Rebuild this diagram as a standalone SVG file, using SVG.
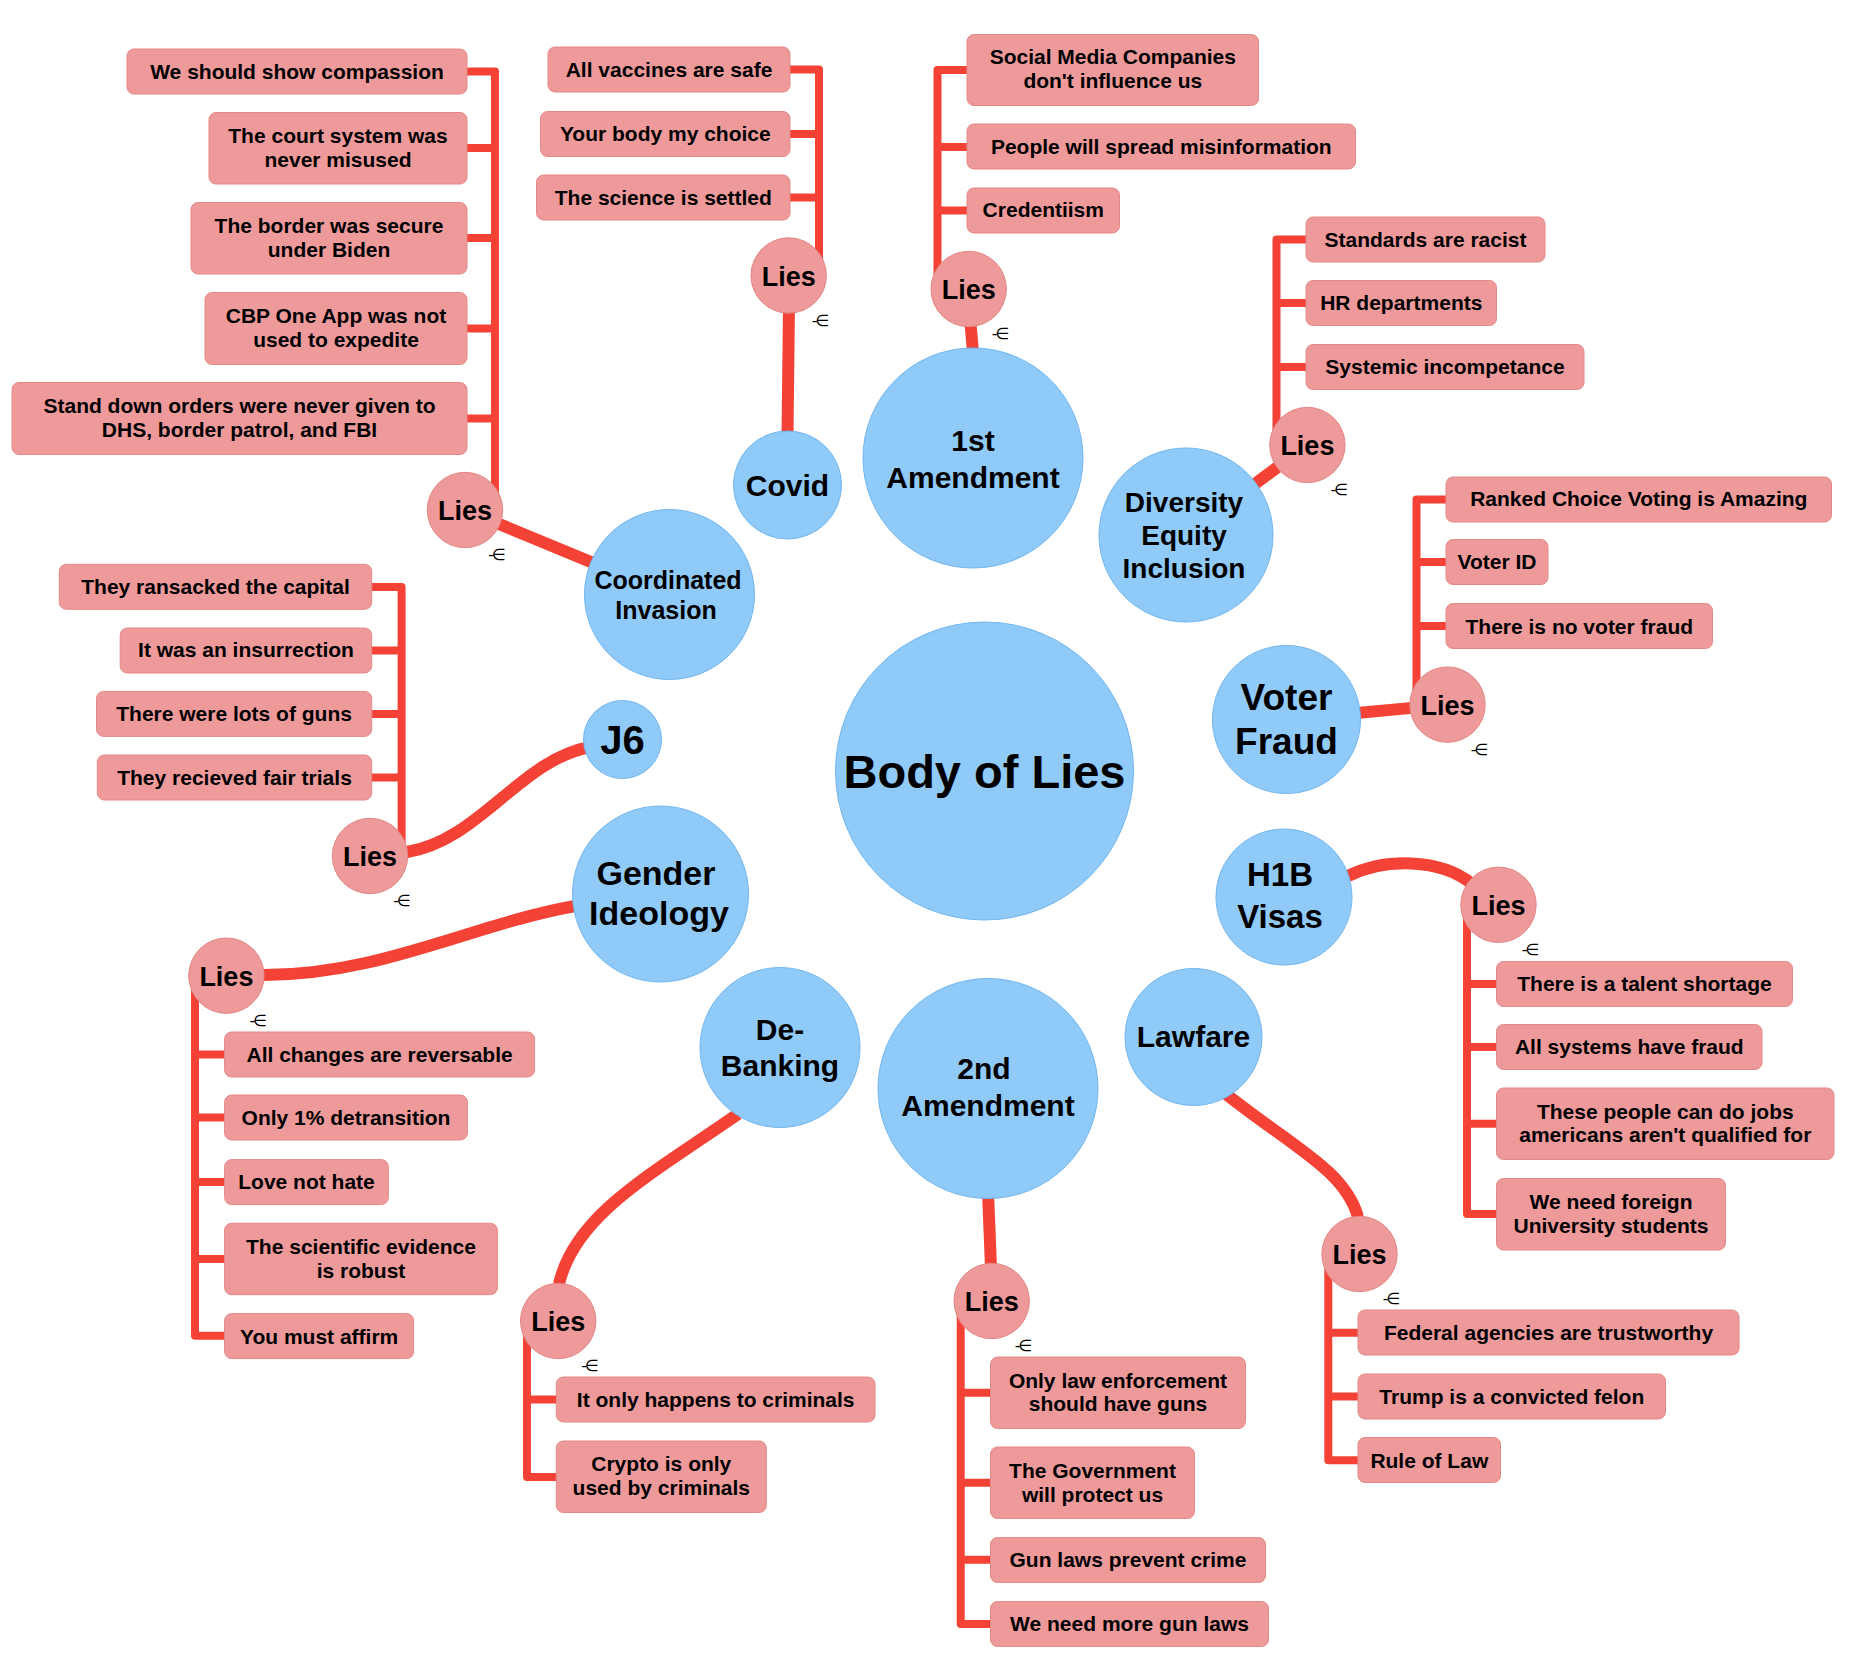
<svg xmlns="http://www.w3.org/2000/svg" width="1849" height="1659" viewBox="0 0 1849 1659">
<style>
text{font-family:"Liberation Sans",Arial,sans-serif;font-weight:bold;fill:#000;text-anchor:middle}
.topic{fill:#90CAF9;stroke:#72B6EF;stroke-width:1}
.lies{fill:#EF9A9A;stroke:#E38585;stroke-width:1}
.box{fill:#EF9A9A;stroke:#E58888;stroke-width:1}
.edge{fill:none;stroke:#F44336;stroke-width:12}
.branch{fill:none;stroke:#F44336;stroke-width:8;stroke-linejoin:round}
.t{font-size:21px}
.lt{font-size:27px}
.ic{font-family:"DejaVu Sans",sans-serif;font-weight:normal;font-size:16px;letter-spacing:-2px}
</style>
<rect width="1849" height="1659" fill="#fff"/>
<g id="connectors">
<path class="edge" d="M789 305 L787.5 435"/>
<path class="edge" d="M970 318 L973 352"/>
<path class="edge" d="M465 510 L669.5 594.5"/>
<path class="edge" d="M1307.4 445 L1186 535"/>
<path class="edge" d="M1286.5 719.5 L1447.5 704.6"/>
<path class="edge" d="M1348 876 C1385 858 1440 858 1472 884"/>
<path class="edge" d="M1226 1094 C1290 1145 1345 1170 1358 1217"/>
<path class="edge" d="M988 1192 L991 1268"/>
<path class="edge" d="M738 1114 C650 1175 575 1215 559 1284"/>
<path class="edge" d="M264 975 C380 975 470 925 575 906"/>
<path class="edge" d="M407 852 C480 840 520 760 590 747"/>
<path class="branch" d="M465 71.5 H495 V500 M495 148 H465 M495 238 H465 M495 328.5 H465 M495 418.5 H465"/>
<path class="branch" d="M788 69.5 H819 V265 M819 134 H788 M819 197.5 H788"/>
<path class="branch" d="M969 70 H937.5 V280 M937.5 147 H969 M937.5 210.5 H969"/>
<path class="branch" d="M1308 239.5 H1276.5 V440 M1276.5 303 H1308 M1276.5 367 H1308"/>
<path class="branch" d="M1448 499.5 H1416.5 V700 M1416.5 562 H1448 M1416.5 626 H1448"/>
<path class="branch" d="M1467 910 V1214 H1498 M1467 984 H1498 M1467 1047 H1498 M1467 1123.75 H1498"/>
<path class="branch" d="M1328.3 1260 V1460.2 H1360 M1328.3 1332.7 H1360 M1328.3 1396.5 H1360"/>
<path class="branch" d="M960.7 1310 V1624 H992 M960.7 1392.8 H992 M960.7 1482.8 H992 M960.7 1559.8 H992"/>
<path class="branch" d="M527 1330 V1477 H558 M527 1399.5 H558"/>
<path class="branch" d="M370 587 H401.6 V850 M401.6 650.4 H370 M401.6 714 H370 M401.6 777.5 H370"/>
<path class="branch" d="M195 990 V1335.8 H226 M195 1054.4 H226 M195 1117.5 H226 M195 1182 H226 M195 1259 H226"/>
</g>

<g id="node-body"><circle class="topic" cx="984.5" cy="771" r="149"/><text x="984.5" y="788" font-size="47">Body of Lies</text></g>
<g id="node-1st"><circle class="topic" cx="973" cy="458" r="110"/><text x="973" y="450.7" font-size="30">1st</text><text x="973" y="487.5" font-size="30">Amendment</text></g>
<g id="node-covid"><circle class="topic" cx="787.5" cy="485" r="54"/><text x="787.5" y="496" font-size="30">Covid</text></g>
<g id="node-dei"><circle class="topic" cx="1186" cy="535" r="87"/><text x="1184" y="511.5" font-size="28">Diversity</text><text x="1184" y="544.5" font-size="28">Equity</text><text x="1184" y="577.5" font-size="28">Inclusion</text></g>
<g id="node-coord"><circle class="topic" cx="669.5" cy="594.5" r="85"/><text x="668" y="589" font-size="25">Coordinated</text><text x="666" y="619" font-size="25">Invasion</text></g>
<g id="node-j6"><circle class="topic" cx="622.5" cy="739.5" r="39"/><text x="622.5" y="754" font-size="40">J6</text></g>
<g id="node-gender"><circle class="topic" cx="660.5" cy="894" r="88"/><text x="656" y="885" font-size="34">Gender</text><text x="659" y="925" font-size="34">Ideology</text></g>
<g id="node-debank"><circle class="topic" cx="780" cy="1047.5" r="80"/><text x="780" y="1040" font-size="30">De-</text><text x="780" y="1075.7" font-size="30">Banking</text></g>
<g id="node-2nd"><circle class="topic" cx="988" cy="1088.5" r="110"/><text x="984" y="1079.3" font-size="30">2nd</text><text x="988" y="1116" font-size="30">Amendment</text></g>
<g id="node-lawfare"><circle class="topic" cx="1193.5" cy="1037" r="68.5"/><text x="1193.5" y="1047" font-size="30">Lawfare</text></g>
<g id="node-h1b"><circle class="topic" cx="1284" cy="897" r="68"/><text x="1280" y="886.4" font-size="33">H1B</text><text x="1280" y="927.5" font-size="33">Visas</text></g>
<g id="node-voter"><circle class="topic" cx="1286.5" cy="719.5" r="74"/><text x="1286.5" y="709.6" font-size="37">Voter</text><text x="1286.5" y="754.3" font-size="37">Fraud</text></g>

<g id="lies-covid"><circle class="lies" cx="788.7" cy="275.5" r="37.7"/><text class="lt" x="788.7" y="285.7">Lies</text><text class="ic" x="819.7" y="325.5">-∈</text></g>
<g id="lies-1st"><circle class="lies" cx="968.7" cy="289" r="37.7"/><text class="lt" x="968.7" y="299.2">Lies</text><text class="ic" x="999.7" y="339">-∈</text></g>
<g id="lies-coord"><circle class="lies" cx="465" cy="510" r="37.7"/><text class="lt" x="465" y="520.2">Lies</text><text class="ic" x="496" y="560">-∈</text></g>
<g id="lies-dei"><circle class="lies" cx="1307.4" cy="445" r="37.7"/><text class="lt" x="1307.4" y="455.2">Lies</text><text class="ic" x="1338.4" y="495">-∈</text></g>
<g id="lies-voter"><circle class="lies" cx="1447.5" cy="704.6" r="37.7"/><text class="lt" x="1447.5" y="714.8">Lies</text><text class="ic" x="1478.5" y="754.5">-∈</text></g>
<g id="lies-h1b"><circle class="lies" cx="1498.5" cy="904.8" r="37.7"/><text class="lt" x="1498.5" y="915">Lies</text><text class="ic" x="1529.5" y="954.8">-∈</text></g>
<g id="lies-lawfare"><circle class="lies" cx="1359.5" cy="1254" r="37.7"/><text class="lt" x="1359.5" y="1264.2">Lies</text><text class="ic" x="1390.5" y="1304">-∈</text></g>
<g id="lies-2nd"><circle class="lies" cx="991.7" cy="1301" r="37.7"/><text class="lt" x="991.7" y="1311.2">Lies</text><text class="ic" x="1022.7" y="1351">-∈</text></g>
<g id="lies-debank"><circle class="lies" cx="558.2" cy="1321" r="37.7"/><text class="lt" x="558.2" y="1331.2">Lies</text><text class="ic" x="589.2" y="1371">-∈</text></g>
<g id="lies-j6"><circle class="lies" cx="370" cy="856" r="37.7"/><text class="lt" x="370" y="866.2">Lies</text><text class="ic" x="401" y="906">-∈</text></g>
<g id="lies-gender"><circle class="lies" cx="226.4" cy="975.7" r="37.7"/><text class="lt" x="226.4" y="985.9">Lies</text><text class="ic" x="257.4" y="1025.7">-∈</text></g>

<g id="box-coord-1"><rect class="box" x="127" y="49" width="340" height="45" rx="7"/><text class="t" x="297" y="79">We should show compassion</text></g>
<g id="box-coord-2"><rect class="box" x="209" y="112.5" width="258" height="71.5" rx="7"/><text class="t" x="338" y="143">The court system was</text><text class="t" x="338" y="167">never misused</text></g>
<g id="box-coord-3"><rect class="box" x="191" y="202.5" width="276" height="71.5" rx="7"/><text class="t" x="329" y="233">The border was secure</text><text class="t" x="329" y="256.5">under Biden</text></g>
<g id="box-coord-4"><rect class="box" x="205" y="292.5" width="262" height="72" rx="7"/><text class="t" x="336" y="323">CBP One App was not</text><text class="t" x="336" y="346.5">used to expedite</text></g>
<g id="box-coord-5"><rect class="box" x="12" y="382.5" width="455" height="72" rx="7"/><text class="t" x="239.5" y="413">Stand down orders were never given to</text><text class="t" x="239.5" y="436.5">DHS, border patrol, and FBI</text></g>

<g id="box-covid-1"><rect class="box" x="548" y="47" width="242" height="45" rx="7"/><text class="t" x="669" y="77">All vaccines are safe</text></g>
<g id="box-covid-2"><rect class="box" x="540.5" y="111.5" width="249.5" height="45" rx="7"/><text class="t" x="665.3" y="141">Your body my choice</text></g>
<g id="box-covid-3"><rect class="box" x="536.5" y="175" width="253.5" height="45" rx="7"/><text class="t" x="663.3" y="204.5">The science is settled</text></g>

<g id="box-1st-1"><rect class="box" x="967" y="34.5" width="291.5" height="71" rx="7"/><text class="t" x="1112.8" y="64.3">Social Media Companies</text><text class="t" x="1112.8" y="87.5">don't influence us</text></g>
<g id="box-1st-2"><rect class="box" x="967" y="124" width="388.5" height="45" rx="7"/><text class="t" x="1161.3" y="153.6">People will spread misinformation</text></g>
<g id="box-1st-3"><rect class="box" x="967" y="188" width="152.5" height="45" rx="7"/><text class="t" x="1043.3" y="217">Credentiism</text></g>

<g id="box-dei-1"><rect class="box" x="1306" y="217" width="239" height="45" rx="7"/><text class="t" x="1425.5" y="247">Standards are racist</text></g>
<g id="box-dei-2"><rect class="box" x="1306" y="280.5" width="190.5" height="45" rx="7"/><text class="t" x="1401.3" y="310">HR departments</text></g>
<g id="box-dei-3"><rect class="box" x="1306" y="344.5" width="278" height="45" rx="7"/><text class="t" x="1445" y="374.3">Systemic incompetance</text></g>

<g id="box-voter-1"><rect class="box" x="1446" y="477" width="385.5" height="45" rx="7"/><text class="t" x="1638.8" y="506.4">Ranked Choice Voting is Amazing</text></g>
<g id="box-voter-2"><rect class="box" x="1446" y="539.5" width="102" height="45" rx="7"/><text class="t" x="1497" y="568.6">Voter ID</text></g>
<g id="box-voter-3"><rect class="box" x="1446" y="603.5" width="266.5" height="45" rx="7"/><text class="t" x="1579.3" y="633.6">There is no voter fraud</text></g>

<g id="box-h1b-1"><rect class="box" x="1496.5" y="961.5" width="296" height="45" rx="7"/><text class="t" x="1644.5" y="990.7">There is a talent shortage</text></g>
<g id="box-h1b-2"><rect class="box" x="1496.5" y="1024.5" width="265.5" height="45" rx="7"/><text class="t" x="1629.3" y="1054.3">All systems have fraud</text></g>
<g id="box-h1b-3"><rect class="box" x="1496.5" y="1088" width="337.5" height="71.5" rx="7"/><text class="t" x="1665.3" y="1118.6">These people can do jobs</text><text class="t" x="1665.3" y="1142">americans aren't qualified for</text></g>
<g id="box-h1b-4"><rect class="box" x="1496.5" y="1178.5" width="229" height="71.5" rx="7"/><text class="t" x="1611" y="1209">We need foreign</text><text class="t" x="1611" y="1233">University students</text></g>

<g id="box-lawfare-1"><rect class="box" x="1358" y="1310" width="381" height="45" rx="7"/><text class="t" x="1548.5" y="1340">Federal agencies are trustworthy</text></g>
<g id="box-lawfare-2"><rect class="box" x="1358" y="1374" width="307.5" height="45" rx="7"/><text class="t" x="1511.8" y="1403.6">Trump is a convicted felon</text></g>
<g id="box-lawfare-3"><rect class="box" x="1358" y="1437.5" width="142.5" height="45" rx="7"/><text class="t" x="1429.3" y="1467.9">Rule of Law</text></g>

<g id="box-2nd-1"><rect class="box" x="990.5" y="1357" width="255" height="71.5" rx="7"/><text class="t" x="1118" y="1387.5">Only law enforcement</text><text class="t" x="1118" y="1411.4">should have guns</text></g>
<g id="box-2nd-2"><rect class="box" x="990.5" y="1447" width="204" height="71.5" rx="7"/><text class="t" x="1092.5" y="1477.5">The Government</text><text class="t" x="1092.5" y="1501.8">will protect us</text></g>
<g id="box-2nd-3"><rect class="box" x="990.5" y="1537.5" width="275" height="45" rx="7"/><text class="t" x="1128" y="1566.8">Gun laws prevent crime</text></g>
<g id="box-2nd-4"><rect class="box" x="990.5" y="1601.5" width="278" height="45" rx="7"/><text class="t" x="1129.5" y="1631">We need more gun laws</text></g>

<g id="box-debank-1"><rect class="box" x="556.3" y="1377" width="318.7" height="45" rx="7"/><text class="t" x="715.7" y="1407">It only happens to criminals</text></g>
<g id="box-debank-2"><rect class="box" x="556.3" y="1441" width="210" height="71.5" rx="7"/><text class="t" x="661.3" y="1471.4">Crypto is only</text><text class="t" x="661.3" y="1494.6">used by criminals</text></g>

<g id="box-j6-1"><rect class="box" x="59.3" y="564.3" width="312.4" height="45" rx="7"/><text class="t" x="215.5" y="594.3">They ransacked the capital</text></g>
<g id="box-j6-2"><rect class="box" x="120.2" y="628" width="251.5" height="45" rx="7"/><text class="t" x="246" y="657">It was an insurrection</text></g>
<g id="box-j6-3"><rect class="box" x="96.5" y="691.4" width="275.2" height="45" rx="7"/><text class="t" x="234.1" y="721">There were lots of guns</text></g>
<g id="box-j6-4"><rect class="box" x="97.3" y="755" width="274.4" height="45" rx="7"/><text class="t" x="234.5" y="784.6">They recieved fair trials</text></g>

<g id="box-gender-1"><rect class="box" x="224.6" y="1032" width="310" height="45" rx="7"/><text class="t" x="379.6" y="1062">All changes are reversable</text></g>
<g id="box-gender-2"><rect class="box" x="224.6" y="1095" width="242.8" height="45" rx="7"/><text class="t" x="346" y="1125">Only 1% detransition</text></g>
<g id="box-gender-3"><rect class="box" x="224.6" y="1159.6" width="163.7" height="45" rx="7"/><text class="t" x="306.5" y="1188.6">Love not hate</text></g>
<g id="box-gender-4"><rect class="box" x="224.6" y="1223.2" width="272.8" height="71.5" rx="7"/><text class="t" x="361" y="1253.6">The scientific evidence</text><text class="t" x="361" y="1277.5">is robust</text></g>
<g id="box-gender-5"><rect class="box" x="224.6" y="1313.6" width="189" height="45" rx="7"/><text class="t" x="319.1" y="1343.6">You must affirm</text></g>
</svg>
